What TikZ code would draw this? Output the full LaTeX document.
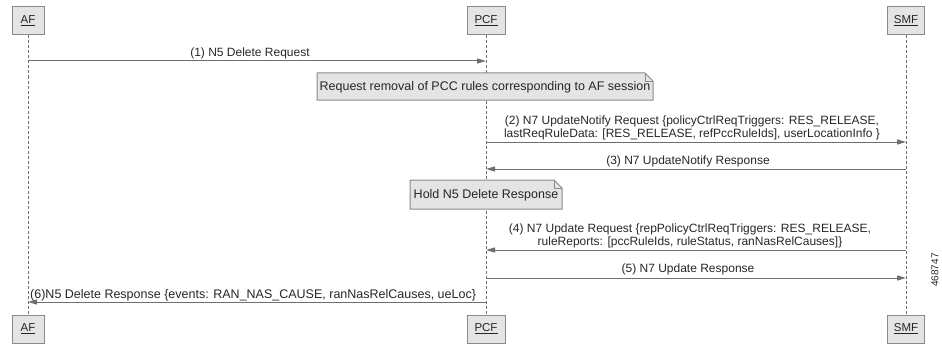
\documentclass[tikz,border=0pt]{standalone}
\usepackage{fontspec}
\setmainfont{Liberation Sans}
\usetikzlibrary{arrows.meta,calc,backgrounds}
\definecolor{boxfill}{HTML}{E4E4E4}
\definecolor{boxline}{HTML}{8A8A8A}
\definecolor{msgline}{HTML}{6E6E6E}
\definecolor{txt}{HTML}{262626}
\begin{document}
\begin{tikzpicture}[x=1pt,y=-1pt,
  actor/.style={draw=boxline,fill=boxfill,line width=1pt,minimum height=28pt,inner sep=0pt,text=txt,font=\fontsize{11.5}{13}\selectfont},
  life/.style={draw=msgline,line width=1pt,dash pattern=on 3pt off 2pt},
  msg/.style={draw=msgline,line width=1pt,-{Triangle[length=9pt,width=5pt]}},
  lbl/.style={text=txt,font=\fontsize{12}{13}\selectfont,inner sep=0pt,align=center},
  notetxt/.style={text=txt,font=\fontsize{12.5}{14}\selectfont,inner sep=0pt},
  notebox/.style={draw=boxline,fill=boxfill,line width=1pt}]
\useasboundingbox (0,0) rectangle (942,345);
% actors top
\node[actor,minimum width=32pt] (afT) at (28,21) {\underline{AF}};
\node[actor,minimum width=38pt] (pcfT) at (486,21) {\underline{PCF}};
\node[actor,minimum width=37pt] (smfT) at (906,21) {\underline{SMF}};
% actors bottom
\node[actor,minimum width=32pt] (afB) at (28,329) {\underline{AF}};
\node[actor,minimum width=38pt] (pcfB) at (486,329) {\underline{PCF}};
\node[actor,minimum width=37pt] (smfB) at (906,329) {\underline{SMF}};
% lifelines
\begin{scope}[on background layer]
\draw[life] (afT) -- (afB);
\draw[life] (pcfT) -- (pcfB);
\draw[life] (smfT) -- (smfB);
\end{scope}
% message coordinates
\coordinate (a1) at (afT |- 0,61);   \coordinate (p1) at (pcfT |- 0,61);
\coordinate (p2) at (pcfT |- 0,142); \coordinate (s2) at (smfT |- 0,142);
\coordinate (s3) at (smfT |- 0,169); \coordinate (p3) at (pcfT |- 0,169);
\coordinate (s4) at (smfT |- 0,250); \coordinate (p4) at (pcfT |- 0,250);
\coordinate (p5) at (pcfT |- 0,278); \coordinate (s5) at (smfT |- 0,278);
\coordinate (p6) at (pcfT |- 0,302); \coordinate (a6) at (afT |- 0,302);
% (1)
\draw[msg] (a1) -- (p1);
\node[lbl] (l1) at (250,53) {(1) N5 Delete Request};
% note 1
\node[notetxt] (n1) at (485,87) {Request removal of PCC rules corresponding to AF session};
\begin{scope}[on background layer]
\draw[notebox] (317,73) -- (645,73) -- (653,81) -- (653,100) -- (317,100) -- cycle;
\draw[notebox,fill=none] (645,73) -- (645,81) -- (653,81);
\end{scope}
% (2)
\draw[msg] (p2) -- (s2);
\node[lbl] (l2) at (692,127.5) {(2) N7 UpdateNotify Request \{policyCtrlReqTriggers: RES\_RELEASE,\\ lastReqRuleData: [RES\_RELEASE, refPccRuleIds], userLocationInfo \}};
% (3)
\draw[msg] (s3) -- (p3);
\node[lbl] (l3) at (688,161) {(3) N7 UpdateNotify Response};
% note 2
\node[notetxt] (n2) at (486,195) {Hold N5 Delete Response};
\begin{scope}[on background layer]
\draw[notebox] (410,180) -- (554,180) -- (562,188) -- (562,209) -- (410,209) -- cycle;
\draw[notebox,fill=none] (554,180) -- (554,188) -- (562,188);
\end{scope}
% (4)
\draw[msg] (s4) -- (p4);
\node[lbl] (l4) at (690,235.5) {(4) N7 Update Request \{repPolicyCtrlReqTriggers: RES\_RELEASE,\\ ruleReports: [pccRuleIds, ruleStatus, ranNasRelCauses]\}};
% (5)
\draw[msg] (p5) -- (s5);
\node[lbl] (l5) at (688,269) {(5) N7 Update Response};
% (6)
\draw[msg] (p6) -- (a6);
\node[lbl,anchor=west,font=\fontsize{12.5}{14}\selectfont] (l6) at (30,295) {(6)N5 Delete Response \{events: RAN\_NAS\_CAUSE, ranNasRelCauses, ueLoc\}};
% figure id
\node[text=txt,font=\fontsize{10}{11}\selectfont,rotate=90,inner sep=0pt] (fid) at (935,270) {468747};
\end{tikzpicture}
\end{document}
